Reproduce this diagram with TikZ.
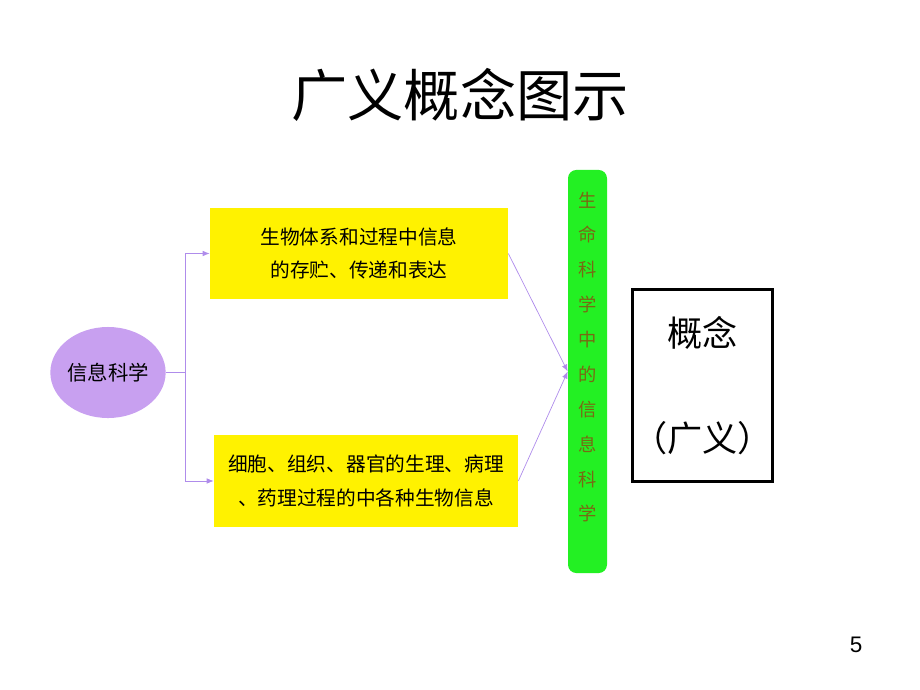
\documentclass[tikz,border=0pt]{standalone}
\usepackage{fontspec}
\setmainfont{Liberation Sans}
\newfontfamily\cjk{Noto Sans CJK SC}
\usetikzlibrary{shapes.geometric,arrows.meta}
\definecolor{lavender}{RGB}{200,160,240}
\definecolor{linklav}{RGB}{175,140,235}
\definecolor{brightgreen}{RGB}{35,240,35}
\definecolor{olivetext}{RGB}{120,105,20}
\begin{document}
\begin{tikzpicture}[x=0.025cm,y=-0.025cm]
		\tikzset{topic/.style = {shape=ellipse,fill=lavender,minimum width=2.55cm,minimum height=2.275cm,inner sep=0pt,font=\cjk\fontsize{14.5}{16}\selectfont}}
		\tikzset{yellowbox/.style = {shape=rectangle,fill=yellow,align=center,inner sep=0pt,font=\cjk\fontsize{14}{24}\selectfont}}
		\tikzset{link/.style = {-{Latex[length=5pt,width=4pt]},draw=linklav,line width=0.5pt}}
		\useasboundingbox (0,0) rectangle (920,690);
		\node[font=\cjk\fontsize{40}{44}\selectfont] (title) at (460,95) {广义概念图示};
		\node[topic] (info) at (108,372.5) {信息科学};
		\node[yellowbox,minimum width=7.45cm,minimum height=2.275cm] (store) at (359,253.5) {生物体系和过程中信息\\的存贮、传递和表达};
		\node[yellowbox,minimum width=7.6cm,minimum height=2.3cm] (tissue) at (366,481) {细胞、组织、器官的生理、病理\\、药理过程的中各种生物信息};
		\node[shape=rectangle,rounded corners=6pt,fill=brightgreen,minimum width=0.975cm,minimum height=10.075cm,inner sep=0pt] (life) at (587.5,371.5) {};
		\node[text=olivetext,align=center,font=\cjk\fontsize{13}{24.8}\selectfont] (lifetext) at (587.5,357) {生\\命\\科\\学\\中\\的\\信\\息\\科\\学};
		\node[shape=rectangle,draw,line width=2.2pt,minimum width=3.45cm,minimum height=4.8cm,inner sep=0pt,align=center,font=\cjk\fontsize{25}{75}\selectfont] (concept) at (702.5,385.5) {概念\\（广义）};
		\node[font=\fontsize{16}{18}\selectfont] (page) at (856,645) {5};
		\coordinate (split) at (185,372.5);
		\draw[draw=linklav,line width=0.5pt] (info.east) -- (split);
		\path[link] (split) |- (store.west);
		\path[link] (split) |- (tissue.west);
		\path[link] (store.east) -- (life.west);
		\path[link] (tissue.east) -- (life.west);
	\end{tikzpicture}
\end{document}
